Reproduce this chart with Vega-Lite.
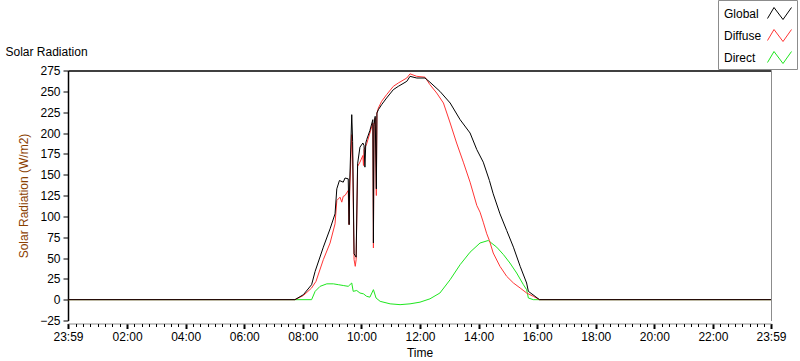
{
  "$schema": "https://vega.github.io/schema/vega-lite/v6.json",
  "width": 703,
  "height": 250,
  "autosize": {"type": "none"},
  "padding": {"left": 68, "top": 70.5, "right": 29, "bottom": 40.5},
  "background": "white",
  "config": {"view": {"stroke": null}, "font": "Liberation Sans"},
  "datasets": {
    "d": [
      {"s":"Global","t":-0.0167,"v":0},{"s":"Global","t":7.73,"v":0},{"s":"Global","t":8.02,"v":6},{"s":"Global","t":8.3,"v":18},{"s":"Global","t":8.42,"v":34},{"s":"Global","t":8.7,"v":63},{"s":"Global","t":8.93,"v":85},{"s":"Global","t":9.1,"v":103},{"s":"Global","t":9.16,"v":133},{"s":"Global","t":9.25,"v":143},{"s":"Global","t":9.38,"v":141},{"s":"Global","t":9.44,"v":146},{"s":"Global","t":9.55,"v":145},{"s":"Global","t":9.58,"v":90},{"s":"Global","t":9.6,"v":140},{"s":"Global","t":9.67,"v":222},{"s":"Global","t":9.7,"v":190},{"s":"Global","t":9.75,"v":55},{"s":"Global","t":9.82,"v":51},{"s":"Global","t":9.87,"v":163},{"s":"Global","t":9.95,"v":183},{"s":"Global","t":10.05,"v":188},{"s":"Global","t":10.09,"v":185},{"s":"Global","t":10.12,"v":159},{"s":"Global","t":10.15,"v":188},{"s":"Global","t":10.18,"v":192},{"s":"Global","t":10.29,"v":203},{"s":"Global","t":10.39,"v":216},{"s":"Global","t":10.41,"v":68},{"s":"Global","t":10.43,"v":210},{"s":"Global","t":10.47,"v":220},{"s":"Global","t":10.51,"v":133},{"s":"Global","t":10.53,"v":224},{"s":"Global","t":10.58,"v":228},{"s":"Global","t":10.69,"v":234},{"s":"Global","t":10.86,"v":242},{"s":"Global","t":11.09,"v":252},{"s":"Global","t":11.26,"v":256},{"s":"Global","t":11.55,"v":262},{"s":"Global","t":11.66,"v":268},{"s":"Global","t":11.89,"v":266},{"s":"Global","t":12.17,"v":266},{"s":"Global","t":12.34,"v":261},{"s":"Global","t":12.68,"v":250},{"s":"Global","t":13.03,"v":236},{"s":"Global","t":13.37,"v":216},{"s":"Global","t":13.71,"v":200},{"s":"Global","t":13.94,"v":180},{"s":"Global","t":14.16,"v":165},{"s":"Global","t":14.37,"v":143},{"s":"Global","t":14.5,"v":127},{"s":"Global","t":14.73,"v":103},{"s":"Global","t":14.96,"v":83},{"s":"Global","t":15.19,"v":63},{"s":"Global","t":15.42,"v":40},{"s":"Global","t":15.64,"v":20},{"s":"Global","t":15.7,"v":10},{"s":"Global","t":15.93,"v":4},{"s":"Global","t":16.08,"v":0},{"s":"Global","t":23.9833,"v":0},
      {"s":"Diffuse","t":-0.0167,"v":0},{"s":"Diffuse","t":7.73,"v":0},{"s":"Diffuse","t":8.02,"v":5},{"s":"Diffuse","t":8.3,"v":14},{"s":"Diffuse","t":8.45,"v":22},{"s":"Diffuse","t":8.7,"v":48},{"s":"Diffuse","t":8.93,"v":68},{"s":"Diffuse","t":9.1,"v":91},{"s":"Diffuse","t":9.16,"v":119},{"s":"Diffuse","t":9.27,"v":123},{"s":"Diffuse","t":9.33,"v":117},{"s":"Diffuse","t":9.38,"v":124},{"s":"Diffuse","t":9.44,"v":125},{"s":"Diffuse","t":9.55,"v":131},{"s":"Diffuse","t":9.58,"v":90},{"s":"Diffuse","t":9.6,"v":130},{"s":"Diffuse","t":9.67,"v":198},{"s":"Diffuse","t":9.7,"v":170},{"s":"Diffuse","t":9.75,"v":48},{"s":"Diffuse","t":9.79,"v":40},{"s":"Diffuse","t":9.82,"v":48},{"s":"Diffuse","t":9.87,"v":160},{"s":"Diffuse","t":9.95,"v":165},{"s":"Diffuse","t":10.05,"v":173},{"s":"Diffuse","t":10.07,"v":161},{"s":"Diffuse","t":10.09,"v":180},{"s":"Diffuse","t":10.18,"v":187},{"s":"Diffuse","t":10.29,"v":200},{"s":"Diffuse","t":10.39,"v":212},{"s":"Diffuse","t":10.41,"v":62},{"s":"Diffuse","t":10.43,"v":208},{"s":"Diffuse","t":10.47,"v":218},{"s":"Diffuse","t":10.51,"v":125},{"s":"Diffuse","t":10.53,"v":224},{"s":"Diffuse","t":10.58,"v":230},{"s":"Diffuse","t":10.69,"v":238},{"s":"Diffuse","t":10.86,"v":246},{"s":"Diffuse","t":11.09,"v":256},{"s":"Diffuse","t":11.26,"v":260},{"s":"Diffuse","t":11.55,"v":266},{"s":"Diffuse","t":11.66,"v":271},{"s":"Diffuse","t":11.89,"v":268},{"s":"Diffuse","t":12.17,"v":267},{"s":"Diffuse","t":12.34,"v":258},{"s":"Diffuse","t":12.57,"v":248},{"s":"Diffuse","t":12.8,"v":236},{"s":"Diffuse","t":13.03,"v":212},{"s":"Diffuse","t":13.25,"v":188},{"s":"Diffuse","t":13.48,"v":165},{"s":"Diffuse","t":13.71,"v":141},{"s":"Diffuse","t":13.94,"v":113},{"s":"Diffuse","t":14.05,"v":105},{"s":"Diffuse","t":14.16,"v":93},{"s":"Diffuse","t":14.28,"v":79},{"s":"Diffuse","t":14.37,"v":71},{"s":"Diffuse","t":14.5,"v":56},{"s":"Diffuse","t":14.73,"v":40},{"s":"Diffuse","t":14.96,"v":28},{"s":"Diffuse","t":15.19,"v":20},{"s":"Diffuse","t":15.42,"v":14},{"s":"Diffuse","t":15.64,"v":8},{"s":"Diffuse","t":15.87,"v":4},{"s":"Diffuse","t":16.08,"v":0},{"s":"Diffuse","t":23.9833,"v":0},
      {"s":"Direct","t":-0.0167,"v":0},{"s":"Direct","t":7.73,"v":0},{"s":"Direct","t":8.3,"v":0},{"s":"Direct","t":8.42,"v":10},{"s":"Direct","t":8.59,"v":16},{"s":"Direct","t":8.82,"v":19},{"s":"Direct","t":9.04,"v":19},{"s":"Direct","t":9.21,"v":18},{"s":"Direct","t":9.38,"v":17},{"s":"Direct","t":9.55,"v":16},{"s":"Direct","t":9.67,"v":20},{"s":"Direct","t":9.72,"v":10},{"s":"Direct","t":9.84,"v":11},{"s":"Direct","t":9.95,"v":8},{"s":"Direct","t":10.07,"v":7},{"s":"Direct","t":10.18,"v":4},{"s":"Direct","t":10.29,"v":3},{"s":"Direct","t":10.41,"v":12},{"s":"Direct","t":10.5,"v":2},{"s":"Direct","t":10.64,"v":-2},{"s":"Direct","t":10.98,"v":-5},{"s":"Direct","t":11.32,"v":-6},{"s":"Direct","t":11.66,"v":-5},{"s":"Direct","t":12.0,"v":-3},{"s":"Direct","t":12.34,"v":1},{"s":"Direct","t":12.68,"v":8},{"s":"Direct","t":13.03,"v":24},{"s":"Direct","t":13.37,"v":42},{"s":"Direct","t":13.71,"v":57},{"s":"Direct","t":14.05,"v":68},{"s":"Direct","t":14.33,"v":71},{"s":"Direct","t":14.62,"v":63},{"s":"Direct","t":14.85,"v":54},{"s":"Direct","t":15.07,"v":44},{"s":"Direct","t":15.3,"v":32},{"s":"Direct","t":15.53,"v":18},{"s":"Direct","t":15.64,"v":12},{"s":"Direct","t":15.7,"v":2},{"s":"Direct","t":15.87,"v":0},{"s":"Direct","t":23.9833,"v":0}
    ]
  },
  "data": {"name": "d"},
  "layer": [
    {
      "transform": [{"filter": "datum.s === 'Direct'"}],
      "mark": {"type": "line", "strokeWidth": 1},
      "encoding": {
        "x": {"field": "t", "type": "quantitative", "scale": {"domain": [-0.0167, 23.9833], "nice": false, "zero": false},
          "axis": {"orient": "bottom", "title": "Time", "titleFont": "Liberation Sans", "titleFontSize": 12, "titleFontWeight": "normal", "titleColor": "black", "titlePadding": 5,
            "values": [-0.0167, 2, 4, 6, 8, 10, 12, 14, 16, 18, 20, 22, 23.9833],
            "labelExpr": "datum.value < 0 || datum.value > 23 ? '23:59' : (datum.value < 10 ? '0' : '') + datum.value + ':00'",
            "labelFlush": false, "labelOverlap": false, "labelFont": "Liberation Sans", "labelFontSize": 12, "labelColor": "black", "labelPadding": 3,
            "offset": 3, "domainColor": "#8c8c8c", "domainWidth": 1, "tickColor": "black", "tickSize": 5, "tickWidth": 2, "grid": false}},
        "y": {"field": "v", "type": "quantitative", "scale": {"domain": [-25, 275], "nice": false, "zero": false},
          "axis": {"orient": "left", "title": "Solar Radiation (W/m2)", "titleFont": "Liberation Sans", "titleFontSize": 12, "titleFontWeight": "normal", "titleColor": "#8a4000", "titlePadding": 9,
            "values": [-25, 0, 25, 50, 75, 100, 125, 150, 175, 200, 225, 250, 275],
            "labelFont": "Liberation Sans", "labelFontSize": 12, "labelColor": "black", "labelPadding": 3,
            "domainColor": "black", "domainWidth": 1.5, "tickColor": "black", "tickSize": 5, "tickWidth": 1, "grid": false}},
        "color": {"field": "s", "type": "nominal",
          "scale": {"domain": ["Global", "Diffuse", "Direct"], "range": ["#000000", "#ff3535", "#1ee61e"]},
          "legend": {"orient": "none", "legendX": 650, "legendY": -70.5, "title": null,
            "symbolType": "M3.6,0.5L4.25,-0.6L5.15,0.6L6.0,-0.6", "symbolSize": 400, "symbolStrokeWidth": 1, "symbolFillColor": "transparent",
            "labelAlign": "left", "labelOffset": -18, "labelFont": "Liberation Sans", "labelFontSize": 12, "labelColor": "black",
            "rowPadding": 3, "padding": 3, "fillColor": "white", "strokeColor": "#8c8c8c"}}
      }
    },
    {
      "transform": [{"filter": "datum.s === 'Diffuse'"}],
      "mark": {"type": "line", "strokeWidth": 1},
      "encoding": {
        "x": {"field": "t", "type": "quantitative",
          "axis": {"orient": "bottom", "title": null, "labels": false, "domain": false, "grid": false, "offset": 3, "tickColor": "black", "tickSize": 3, "tickWidth": 1,
            "values": [0.25,0.5,0.75,1,1.25,1.5,1.75,2.25,2.5,2.75,3,3.25,3.5,3.75,4.25,4.5,4.75,5,5.25,5.5,5.75,6.25,6.5,6.75,7,7.25,7.5,7.75,8.25,8.5,8.75,9,9.25,9.5,9.75,10.25,10.5,10.75,11,11.25,11.5,11.75,12.25,12.5,12.75,13,13.25,13.5,13.75,14.25,14.5,14.75,15,15.25,15.5,15.75,16.25,16.5,16.75,17,17.25,17.5,17.75,18.25,18.5,18.75,19,19.25,19.5,19.75,20.25,20.5,20.75,21,21.25,21.5,21.75,22.25,22.5,22.75,23,23.25,23.5,23.75]}},
        "y": {"field": "v", "type": "quantitative",
          "axis": {"orient": "right", "title": null, "labels": false, "ticks": false, "grid": false, "domainColor": "#8c8c8c", "domainWidth": 1}},
        "color": {"field": "s", "type": "nominal"}
      }
    },
    {
      "transform": [{"filter": "datum.s === 'Global'"}],
      "mark": {"type": "line", "strokeWidth": 1},
      "encoding": {
        "x": {"field": "t", "type": "quantitative",
          "axis": {"orient": "top", "title": "Solar Radiation", "titleFont": "Liberation Sans", "titleFontSize": 12, "titleFontWeight": "normal", "titleColor": "black",
            "titleX": -63, "titleY": -15.5, "titleAlign": "left", "titleAnchor": "start", "titleBaseline": "alphabetic", "titleAngle": 0,
            "labels": false, "ticks": false, "grid": false, "domainColor": "black", "domainWidth": 1.5}},
        "y": {"field": "v", "type": "quantitative", "axis": null},
        "color": {"field": "s", "type": "nominal"}
      }
    }
  ],
  "resolve": {"axis": {"x": "independent", "y": "independent"}}
}
